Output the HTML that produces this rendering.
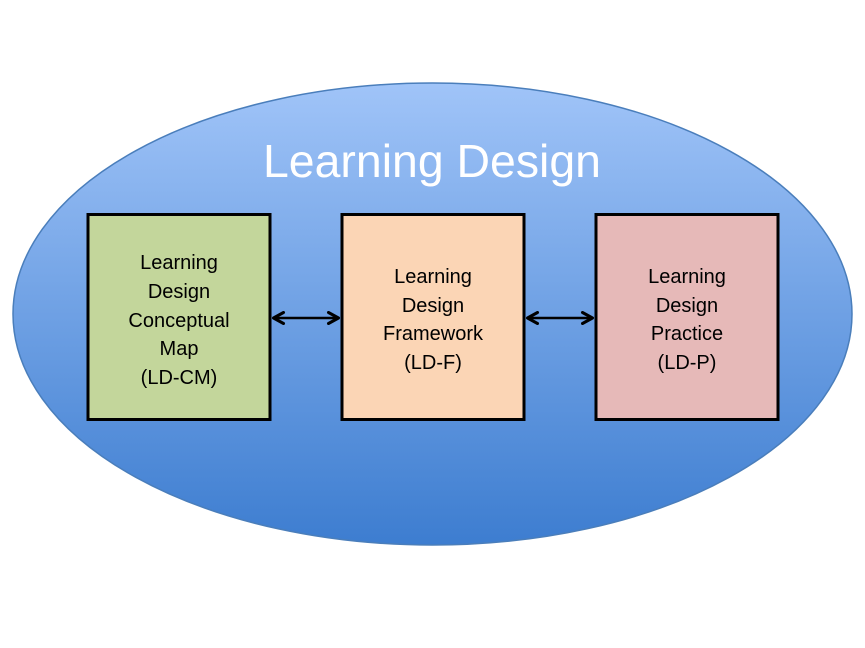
<!DOCTYPE html>
<html><head><meta charset="utf-8"><style>html,body{margin:0;padding:0;background:#fff}svg{display:block}</style></head>
<body>
<svg width="865" height="648" viewBox="0 0 865 648" xmlns="http://www.w3.org/2000/svg">
<defs>
<linearGradient id="g" x1="0" y1="0" x2="0" y2="1">
<stop offset="0" stop-color="#a0c4f8"/>
<stop offset="1" stop-color="#3d7dd0"/>
</linearGradient>
<marker id="a" viewBox="0 0 14 14" refX="12.5" refY="7" markerWidth="14" markerHeight="14" markerUnits="userSpaceOnUse" orient="auto-start-reverse">
<path d="M2,1.5 L12,7 L2,12.5" fill="none" stroke="#000" stroke-width="3" stroke-linecap="round" stroke-linejoin="round"/>
</marker>
</defs>
<ellipse cx="432.5" cy="314" rx="419.5" ry="231" fill="url(#g)" stroke="#4a7ebb" stroke-width="1.5"/>
<text x="432" y="177" text-anchor="middle" font-family="Liberation Sans, sans-serif" font-size="46" fill="#fff" textLength="338" lengthAdjust="spacingAndGlyphs">Learning Design</text>
<g stroke="#000" stroke-width="3">
<rect x="88" y="214.5" width="182" height="205" fill="#c3d69b"/>
<rect x="342" y="214.5" width="182" height="205" fill="#fbd5b5"/>
<rect x="596" y="214.5" width="182" height="205" fill="#e6b9b8"/>
</g>
<g stroke="#000" stroke-width="2.5" marker-start="url(#a)" marker-end="url(#a)">
<line x1="273" y1="318" x2="339" y2="318"/>
<line x1="527" y1="318" x2="593" y2="318"/>
</g>
<g font-family="Liberation Sans, sans-serif" font-size="20" fill="#000" text-anchor="middle">
<text x="179" y="269">Learning</text>
<text x="179" y="298">Design</text>
<text x="179" y="327">Conceptual</text>
<text x="179" y="355">Map</text>
<text x="179" y="384">(LD-CM)</text>
<text x="433" y="283">Learning</text>
<text x="433" y="312">Design</text>
<text x="433" y="340">Framework</text>
<text x="433" y="369">(LD-F)</text>
<text x="687" y="283">Learning</text>
<text x="687" y="312">Design</text>
<text x="687" y="340">Practice</text>
<text x="687" y="369">(LD-P)</text>
</g>
</svg>
</body></html>
